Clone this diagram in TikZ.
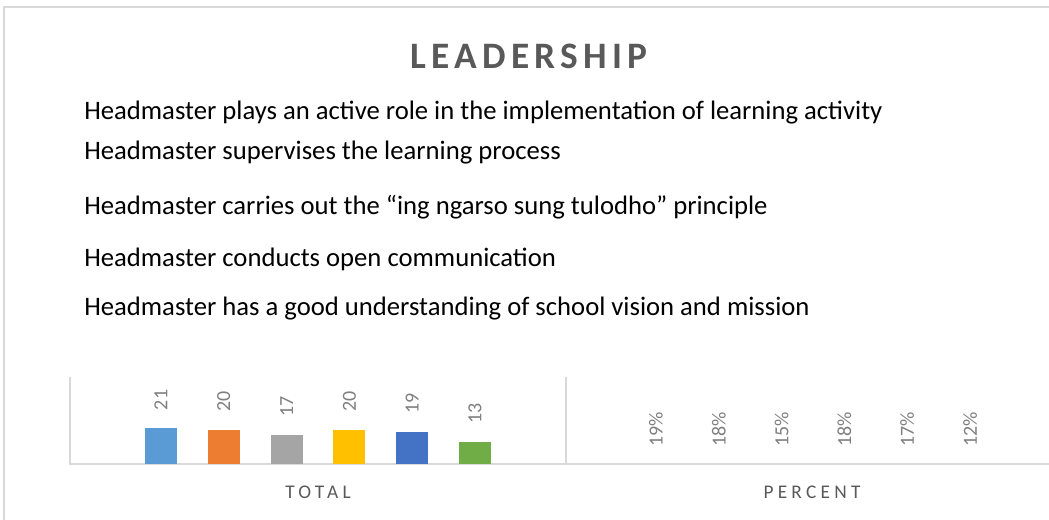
\documentclass[tikz,border=0pt]{standalone}
\usepackage{fontspec}
\setmainfont{Carlito}
\newfontfamily\titlefont[LetterSpace=14]{Carlito}
\newfontfamily\catfont[LetterSpace=22]{Carlito}

\definecolor{frameGray}{HTML}{D9D9D9}
\definecolor{textGray}{HTML}{595959}
\definecolor{labelGray}{HTML}{7F7F7F}
\definecolor{barA}{HTML}{5B9BD5}
\definecolor{barB}{HTML}{ED7D31}
\definecolor{barC}{HTML}{A5A5A5}
\definecolor{barD}{HTML}{FFC000}
\definecolor{barE}{HTML}{4472C4}
\definecolor{barF}{HTML}{70AD47}

\tikzset{
  frameline/.style={draw=frameGray, line width=1.1pt},
  axisline/.style={draw=frameGray, line width=1.1pt},
  charttitle/.style={font=\titlefont\fontsize{28}{32}\selectfont\bfseries, text=textGray, inner sep=0pt},
  legendtext/.style={font=\fontsize{20}{23}\selectfont, text=black, anchor=west, inner sep=0pt},
  datalabel/.style={font=\fontsize{15}{17}\selectfont, text=labelGray, rotate=90, anchor=west, inner sep=0pt},
  catlabel/.style={font=\catfont\fontsize{14.5}{17}\selectfont, text=textGray, inner sep=0pt}
}

\begin{document}
\begin{tikzpicture}[x=0.75pt, y=-0.75pt]
        \useasboundingbox (0,0) rectangle (1049,520);
        % Frame
        \draw[frameline] (4,520) -- (4,7) -- (1049,7);

        % Title and legend
        \node(title) [charttitle] at (529,56) {LEADERSHIP};
        \node(leg1) [legendtext] at (84,113) {Headmaster plays an active role in the implementation of learning activity};
        \node(leg2) [legendtext] at (84,153) {Headmaster supervises the learning process};
        \node(leg3) [legendtext] at (84,207) {Headmaster carries out the “ing ngarso sung tulodho” principle};
        \node(leg4) [legendtext] at (84,259) {Headmaster conducts open communication};
        \node(leg5) [legendtext] at (84,309) {Headmaster has a good understanding of school vision and mission};

        % Axes
        \draw[axisline] (70,377) -- (70,464) -- (1049,464);
        \draw[axisline] (566,377) -- (566,464);

        % Bars and labels
        \foreach \i/\v/\p/\c in {0/21/19/barA, 1/20/18/barB, 2/17/15/barC, 3/20/18/barD, 4/19/17/barE, 5/13/12/barF} {
            \fill[\c] (145+62.8*\i,464) rectangle ++(32,-1.7*\v);
            \node(tot\i) [datalabel] at (161+62.8*\i,446-1.7*\v) {\v};
            \node(pct\i) [datalabel] at (656+62.8*\i,447) {\p\%};
        }

        % Categories
        \node(total) [catlabel] at (318,492) {TOTAL};
        \node(percent) [catlabel] at (812,492) {PERCENT};
    \end{tikzpicture}
\end{document}
